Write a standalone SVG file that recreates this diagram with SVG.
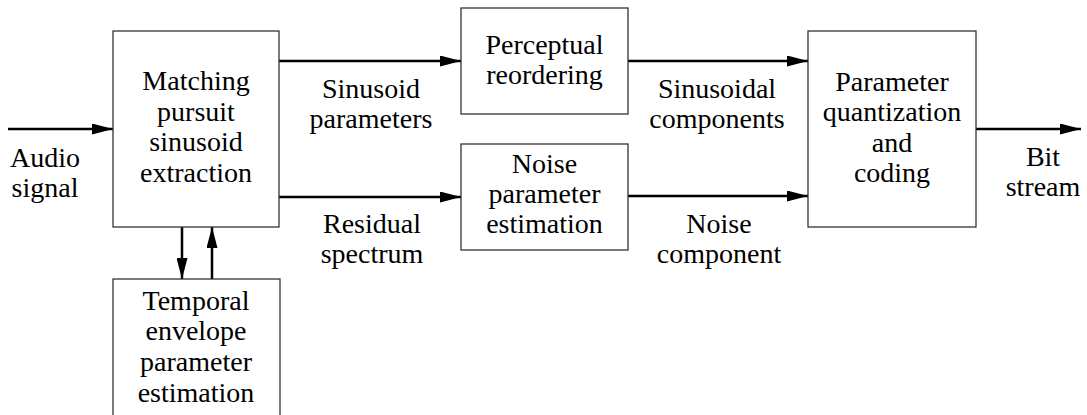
<svg xmlns="http://www.w3.org/2000/svg" width="1087" height="415" viewBox="0 0 1087 415">
<defs>
<marker id="ah" markerWidth="21" markerHeight="11" refX="21" refY="5.5" orient="auto" markerUnits="userSpaceOnUse">
<path d="M0,0 L21,5.5 L0,11 Z" fill="#000"/>
</marker>
<style>
.box{fill:#fff;stroke:#333;stroke-width:1.3}
.t{font-family:'Liberation Serif','Times New Roman','DejaVu Serif',serif;font-size:28px;fill:#000;text-anchor:middle}
.c{stroke:#000;stroke-width:2.5;fill:none;marker-end:url(#ah)}
</style>
</defs>
<rect width="1087" height="415" fill="#fff"/>
<g id="connectors">
<line class="c" x1="8" y1="129" x2="113" y2="129"/>
<line class="c" x1="279" y1="61" x2="461" y2="61"/>
<line class="c" x1="279" y1="197" x2="461" y2="197"/>
<line class="c" x1="628" y1="61" x2="808" y2="61"/>
<line class="c" x1="628" y1="196" x2="808" y2="196"/>
<line class="c" x1="976" y1="129" x2="1081" y2="129"/>
<line class="c" x1="182" y1="227" x2="182" y2="279"/>
<line class="c" x1="212" y1="279" x2="212" y2="227"/>
</g>
<g id="labels" font-family="Liberation Serif, serif">
<text class="t" x="45" y="167">Audio</text>
<text class="t" x="45" y="197">signal</text>
<text class="t" x="371" y="98">Sinusoid</text>
<text class="t" x="371" y="128">parameters</text>
<text class="t" x="372" y="233">Residual</text>
<text class="t" x="372" y="263">spectrum</text>
<text class="t" x="717" y="98">Sinusoidal</text>
<text class="t" x="717" y="128">components</text>
<text class="t" x="719" y="233">Noise</text>
<text class="t" x="719" y="263">component</text>
<text class="t" x="1043" y="166">Bit</text>
<text class="t" x="1043" y="196">stream</text>
</g>
<g id="matching">
<rect class="box" x="113" y="31" width="166" height="196"/>
<text class="t" x="196" y="90">Matching</text>
<text class="t" x="196" y="121">pursuit</text>
<text class="t" x="196" y="151">sinusoid</text>
<text class="t" x="196" y="182">extraction</text>
</g>
<g id="temporal">
<rect class="box" x="113" y="279" width="167" height="160"/>
<text class="t" x="196" y="310">Temporal</text>
<text class="t" x="196" y="340">envelope</text>
<text class="t" x="196" y="371">parameter</text>
<text class="t" x="196" y="402">estimation</text>
</g>
<g id="perceptual">
<rect class="box" x="461" y="8" width="167" height="106"/>
<text class="t" x="544.5" y="54">Perceptual</text>
<text class="t" x="544.5" y="84">reordering</text>
</g>
<g id="noise">
<rect class="box" x="461" y="144" width="167" height="106"/>
<text class="t" x="544.5" y="173">Noise</text>
<text class="t" x="544.5" y="203">parameter</text>
<text class="t" x="544.5" y="233">estimation</text>
</g>
<g id="quantization">
<rect class="box" x="808" y="31" width="168" height="196"/>
<text class="t" x="892" y="91">Parameter</text>
<text class="t" x="892" y="121">quantization</text>
<text class="t" x="892" y="152">and</text>
<text class="t" x="892" y="182">coding</text>
</g>
</svg>
